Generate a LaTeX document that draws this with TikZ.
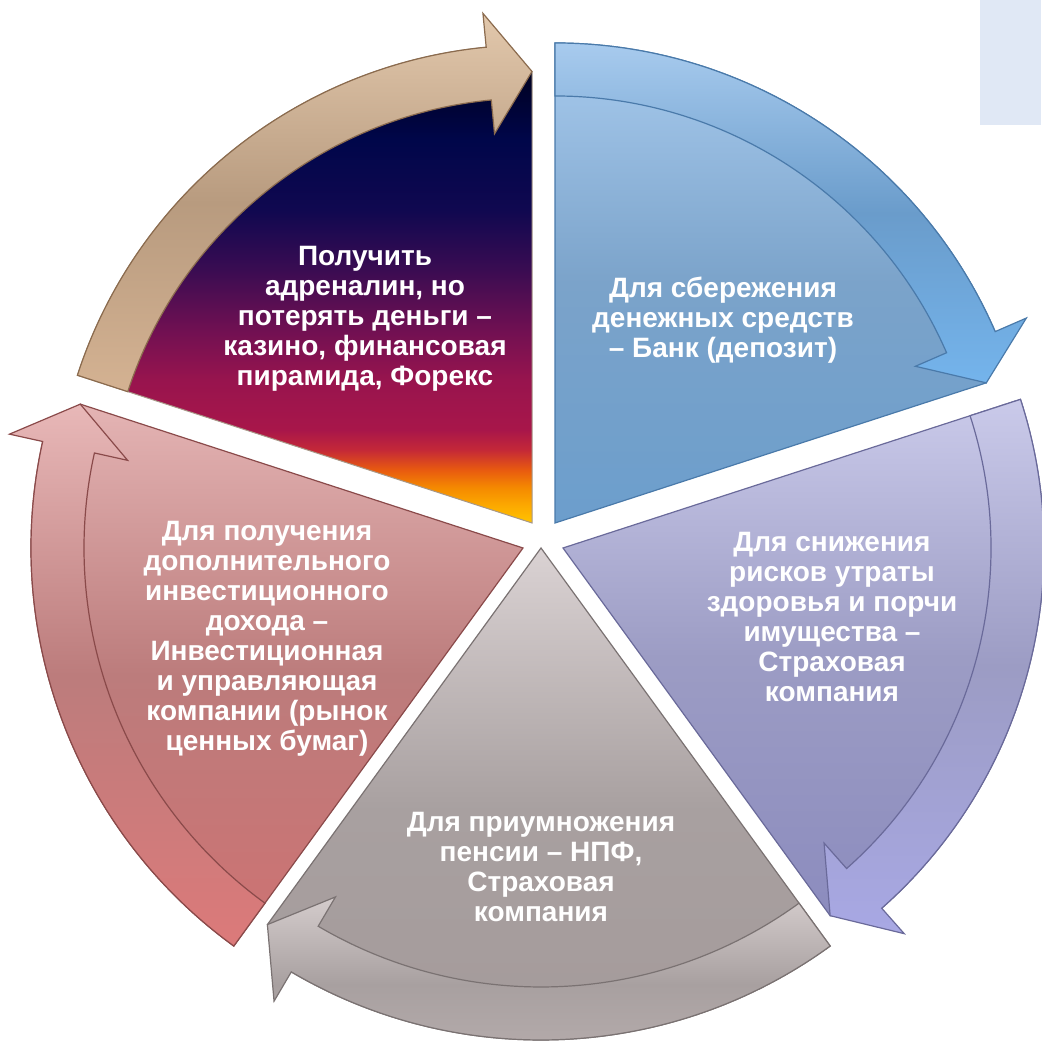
\documentclass[tikz,border=0pt]{standalone}
\usepackage{fontspec}
\setmainfont{Liberation Sans}
\usetikzlibrary{shadings}
\definecolor{sunYellow}{HTML}{FFC400}
\definecolor{sunAmber}{HTML}{FCA800}
\definecolor{sunOrange}{HTML}{F58A00}
\definecolor{sunEmber}{HTML}{E85A10}
\definecolor{sunRed}{HTML}{C42838}
\definecolor{sunCrimson}{HTML}{A8164A}
\definecolor{sunWine}{HTML}{98144E}
\definecolor{sunPlum}{HTML}{701052}
\definecolor{sunViolet}{HTML}{3A0C52}
\definecolor{sunNavy}{HTML}{100850}
\definecolor{sunDeep}{HTML}{00064A}
\definecolor{sunBlack}{HTML}{000012}
\pgfdeclareverticalshading{sunsetShade}{100bp}{%%
  color(0bp)=(sunYellow); color(25bp)=(sunYellow); color(26.9bp)=(sunAmber);
  color(28.7bp)=(sunOrange); color(30.6bp)=(sunEmber); color(32.7bp)=(sunRed);
  color(34.8bp)=(sunCrimson); color(40bp)=(sunWine); color(45.3bp)=(sunPlum);
  color(51.6bp)=(sunViolet); color(57.9bp)=(sunNavy); color(65.2bp)=(sunDeep);
  color(75bp)=(sunBlack); color(100bp)=(sunBlack)}
%% #1 apex, #2 start angle, #3 outer radius, #4 wedge style, #5 arrow style.
\newcommand{\sliceWithArrow}[5]{%%
  \begin{scope}[shift={(#1)}]
    \pgfmathsetmacro{\rInner}{#3-\band}
    \pgfmathsetmacro{\rMiddle}{#3-\band/2}
    \pgfmathsetmacro{\tipAngle}{#2-72}
    \pgfmathsetmacro{\headBack}{#2-72+\headAngle}
    \draw[#4] (0,0) -- (#2:#3)
      arc[start angle=#2, end angle=\headBack, radius=#3]
      -- (\tipAngle:\rMiddle) -- cycle;
    \draw[#5] (#2:#3)
      arc[start angle=#2, end angle=\headBack, radius=#3]
      -- (\headBack:#3+\headWidth) -- (\tipAngle:\rMiddle)
      -- (\headBack:\rInner-\headWidth) -- (\headBack:\rInner)
      arc[start angle=\headBack, end angle=#2, radius=\rInner] -- cycle;
  \end{scope}
}

\begin{document}
\begin{tikzpicture}[x=1pt, y=1pt,%%
  lossWedge/.style={draw=lossLine, line width=1pt, shade, shading=sunsetShade},
  lossArrow/.style={draw=lossArrowLine, line width=1.2pt,
    top color=lossTop, bottom color=lossBottom, middle color=lossMid},
  savingWedge/.style={draw=savingLine, line width=1.2pt,
    top color=savingTop, bottom color=savingBottom, middle color=savingMid},
  savingArrow/.style={draw=savingLine, line width=1.2pt,
    top color=savingTop, bottom color=savingHead, middle color=savingArrowMid},
  riskWedge/.style={draw=riskLine, line width=1.2pt,
    top color=riskTop, bottom color=riskBottom, middle color=riskMid},
  riskArrow/.style={draw=riskLine, line width=1.2pt,
    top color=riskTop, bottom color=riskHead, middle color=riskMid},
  pensionWedge/.style={draw=pensionLine, line width=1.2pt,
    top color=pensionTop, bottom color=pensionBottom, middle color=pensionMid},
  pensionArrow/.style={draw=pensionLine, line width=1.2pt,
    top color=pensionArrowTop, bottom color=pensionArrowBottom,
    middle color=pensionMid},
  incomeWedge/.style={draw=incomeLine, line width=1.2pt,
    top color=incomeTop, bottom color=incomeBottom, middle color=incomeMid},
  incomeArrow/.style={draw=incomeLine, line width=1.2pt,
    top color=incomeArrowTop, bottom color=incomeHead, middle color=incomeMid},
  labelStyle/.style={text=white, align=center,
    font=\bfseries\fontsize{28}{30}\selectfont}%%
]
%%
%%
\definecolor{lossLine}{HTML}{A89888}
\definecolor{lossArrowLine}{HTML}{8B6B4E}
\definecolor{lossTop}{HTML}{E2C8AC}
\definecolor{lossMid}{HTML}{B89B7F}
\definecolor{lossBottom}{HTML}{D4B292}
\definecolor{savingLine}{HTML}{4A7AAA}
\definecolor{savingTop}{HTML}{A8CBEE}
\definecolor{savingMid}{HTML}{7BA3CA}
\definecolor{savingBottom}{HTML}{6C9ECC}
\definecolor{savingArrowMid}{HTML}{6A9CCB}
\definecolor{savingHead}{HTML}{74B4EC}
\definecolor{riskLine}{HTML}{6A6A9A}
\definecolor{riskTop}{HTML}{CACAEA}
\definecolor{riskMid}{HTML}{9C9CC4}
\definecolor{riskBottom}{HTML}{8C8CBE}
\definecolor{riskHead}{HTML}{A8A8E4}
\definecolor{pensionLine}{HTML}{7A7272}
\definecolor{pensionTop}{HTML}{DAD2D3}
\definecolor{pensionMid}{HTML}{A8A0A0}
\definecolor{pensionBottom}{HTML}{A49A9A}
\definecolor{pensionArrowTop}{HTML}{D4CCCC}
\definecolor{pensionArrowBottom}{HTML}{B8AEAE}
\definecolor{incomeLine}{HTML}{8A4A4A}
\definecolor{incomeTop}{HTML}{E4B4B4}
\definecolor{incomeMid}{HTML}{BC7C7C}
\definecolor{incomeBottom}{HTML}{CE7272}
\definecolor{incomeArrowTop}{HTML}{E8B8B8}
\definecolor{incomeHead}{HTML}{DC7A7A}
\definecolor{cornerFill}{HTML}{E0E8F5}
%%
\pgfmathsetmacro{\band}{53}       %% Width of each curved arrow.
\pgfmathsetmacro{\headWidth}{34}  %% How far the head sticks out of the band.
\pgfmathsetmacro{\headAngle}{5.5} %% Length of the head, as an angle.
\useasboundingbox (0,0) rectangle (1041,1043);
\fill[cornerFill] (980,918) rectangle (1041,1043);
\coordinate (lossApex) at (532,520);
\coordinate (savingApex) at (555,520);
\coordinate (riskApex) at (563,495);
\coordinate (pensionApex) at (541,495);
\coordinate (incomeApex) at (523,495);
%%
%%
%% The five slices, clockwise from the top left.
\sliceWithArrow{lossApex}{162}{478}{lossWedge}{lossArrow}
\sliceWithArrow{savingApex}{90}{480}{savingWedge}{savingArrow}
\sliceWithArrow{riskApex}{18}{481}{riskWedge}{riskArrow}
\sliceWithArrow{pensionApex}{-54}{492}{pensionWedge}{pensionArrow}
\sliceWithArrow{incomeApex}{-126}{492}{incomeWedge}{incomeArrow}
%%
\node[labelStyle] (lossText) at (365,724)
  {Получить\\адреналин, но\\потерять деньги –\\казино, финансовая\\пирамида, Форекс};
\node[labelStyle] (savingText) at (723,723)
  {Для сбережения\\денежных средств\\– Банк (депозит)};
\node[labelStyle] (riskText) at (832,426)
  {Для снижения\\рисков утраты\\здоровья и порчи\\имущества –\\Страховая\\компания};
\node[labelStyle] (pensionText) at (541,176)
  {Для приумножения\\пенсии – НПФ,\\Страховая\\компания};
\node[labelStyle] (incomeText) at (267,404)
  {Для получения\\дополнительного\\инвестиционного\\дохода –\\Инвестиционная\\и управляющая\\компании (рынок\\ценных бумаг)};
\end{tikzpicture}
\end{document}
